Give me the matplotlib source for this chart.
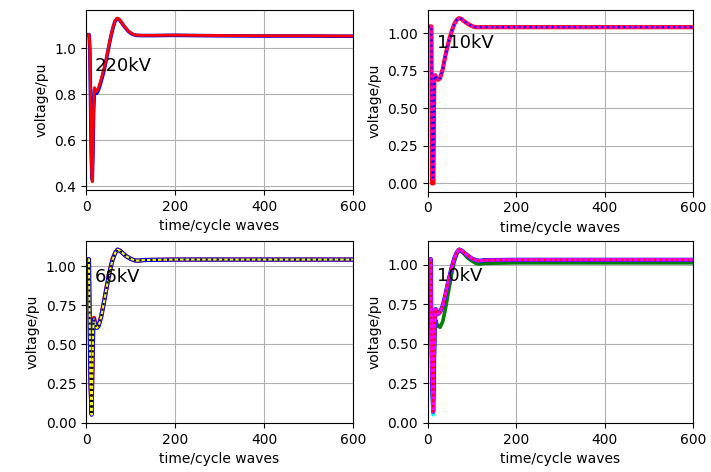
import numpy as np
import matplotlib.pyplot as plt

# cycle-wave sample points of each bus voltage curve
t_220 = [0, 7, 8.5, 10, 11.5, 13, 14, 15.5, 17, 19, 21, 24, 28, 33, 40, 47, 54, 60, 65, 70, 74, 80,
         87, 95, 103, 112, 125, 150, 200, 300, 400, 500, 600]
v_220_red = [1.06, 1.06, 1.0, 0.8, 0.55, 0.44, 0.42, 0.55, 0.74, 0.83, 0.82, 0.812, 0.83, 0.86, 0.91,
             0.97, 1.04, 1.09, 1.12, 1.132, 1.128, 1.113, 1.094, 1.076, 1.064, 1.058, 1.057, 1.057,
             1.058, 1.056, 1.055, 1.055, 1.054]
v_220_blue = [1.06, 1.06, 1.0, 0.8, 0.56, 0.45, 0.43, 0.54, 0.72, 0.82, 0.81, 0.805, 0.82, 0.85, 0.90,
              0.965, 1.035, 1.085, 1.118, 1.13, 1.127, 1.112, 1.093, 1.075, 1.063, 1.057, 1.056, 1.056,
              1.057, 1.055, 1.054, 1.054, 1.053]

t_110 = [0, 8.5, 9, 10, 13, 14, 15, 17, 20, 24, 28, 34, 40, 47, 54, 60, 66, 71, 76, 82, 88, 95,
         102, 108, 130, 200, 300, 400, 500, 600]
v_110_red = [1.045, 1.045, 0.6, 0.0, 0.0, 0.4, 0.70, 0.72, 0.70, 0.69, 0.70, 0.76, 0.85, 0.94, 1.01,
             1.06, 1.09, 1.10, 1.095, 1.08, 1.068, 1.055, 1.045, 1.04, 1.04, 1.04, 1.04, 1.04, 1.04, 1.04]
v_110_mag = [1.045, 1.045, 0.6, 0.03, 0.03, 0.4, 0.70, 0.725, 0.705, 0.69, 0.70, 0.76, 0.85, 0.94, 1.01,
             1.06, 1.09, 1.10, 1.095, 1.08, 1.068, 1.055, 1.045, 1.04, 1.04, 1.04, 1.04, 1.04, 1.04, 1.04]
v_110_blue = [1.045, 1.045, 0.6, 0.04, 0.04, 0.4, 0.70, 0.72, 0.70, 0.69, 0.70, 0.76, 0.85, 0.94, 1.01,
              1.06, 1.09, 1.10, 1.095, 1.08, 1.068, 1.055, 1.045, 1.04, 1.04, 1.04, 1.04, 1.04, 1.04, 1.04]

t_66 = [0, 6.5, 8, 10, 12.5, 14, 16, 18, 20, 24, 28, 34, 40, 47, 54, 60, 66, 71, 76, 82, 90, 100,
        110, 118, 130, 200, 300, 400, 500, 600]
v_66_red = [1.045, 1.045, 0.7, 0.25, 0.06, 0.3, 0.6, 0.67, 0.64, 0.61, 0.62, 0.68, 0.77, 0.88, 0.98,
            1.05, 1.09, 1.107, 1.1, 1.085, 1.065, 1.048, 1.037, 1.036, 1.04, 1.043, 1.043, 1.043, 1.043, 1.043]
v_66_blue = [1.045, 1.045, 0.7, 0.25, 0.05, 0.3, 0.59, 0.66, 0.63, 0.605, 0.615, 0.675, 0.765, 0.875,
             0.975, 1.045, 1.088, 1.106, 1.1, 1.085, 1.065, 1.048, 1.037, 1.036, 1.04, 1.043, 1.043,
             1.043, 1.043, 1.043]
v_66_yel = [1.045, 1.045, 0.7, 0.25, 0.05, 0.3, 0.59, 0.66, 0.63, 0.605, 0.615, 0.675, 0.765, 0.875,
            0.975, 1.045, 1.088, 1.106, 1.1, 1.085, 1.065, 1.048, 1.037, 1.036, 1.04, 1.043, 1.043,
            1.043, 1.043, 1.043]

t_10 = [0, 7, 8, 10, 12.5, 14, 16, 18, 20, 24, 28, 34, 40, 47, 54, 60, 66, 71, 76, 82, 90, 100,
        110, 118, 130, 200, 300, 400, 500, 600]
v_10_green = [1.035, 1.035, 0.7, 0.25, 0.06, 0.3, 0.58, 0.65, 0.63, 0.61, 0.605, 0.64, 0.72, 0.83,
              0.94, 1.02, 1.07, 1.09, 1.085, 1.07, 1.045, 1.025, 1.008, 1.005, 1.01, 1.013, 1.013,
              1.013, 1.013, 1.013]
v_10_cyan = [1.035, 1.035, 0.7, 0.25, 0.05, 0.3, 0.63, 0.72, 0.71, 0.69, 0.70, 0.74, 0.81, 0.90,
             0.98, 1.04, 1.08, 1.097, 1.092, 1.078, 1.06, 1.04, 1.028, 1.026, 1.03, 1.032, 1.032,
             1.032, 1.032, 1.032]
v_10_mag = [1.035, 1.035, 0.7, 0.25, 0.07, 0.3, 0.63, 0.72, 0.71, 0.69, 0.70, 0.74, 0.81, 0.90,
            0.98, 1.04, 1.08, 1.097, 1.092, 1.078, 1.06, 1.04, 1.028, 1.026, 1.03, 1.032, 1.032,
            1.032, 1.032, 1.032]

labels = ['220kV', '110kV', '66kV', '10kV']

fig = plt.figure(figsize=(7.11, 4.72), dpi=100)
ax1 = fig.add_axes([0.121, 0.5975, 0.3755, 0.3815])
ax2 = fig.add_axes([0.6015, 0.594, 0.3735, 0.385])
ax3 = fig.add_axes([0.121, 0.1038, 0.3755, 0.385])
ax4 = fig.add_axes([0.6015, 0.1038, 0.3735, 0.385])

ax1.plot(t_220, v_220_blue, color='blue', lw=2.6)
ax1.plot(t_220, v_220_red, color='red', lw=2.0)

ax2.plot(t_110, v_110_red, color='red', lw=3.0)
ax2.plot(t_110, v_110_mag, color='magenta', lw=2.0, alpha=0.7)
ax2.plot(t_110, v_110_blue, color='blue', lw=1.5, ls=':')

ax3.plot(t_66, v_66_red, color='red', lw=3.0)
ax3.plot(t_66, v_66_blue, color='blue', lw=3.0)
ax3.plot(t_66, v_66_yel, color='yellow', lw=1.5)
ax3.plot(t_66, v_66_yel, color='black', lw=1.5, ls=':')

ax4.plot(t_10, v_10_green, color='green', lw=2.6)
ax4.plot(t_10, v_10_cyan, color='cyan', lw=2.6)
ax4.plot(t_10, v_10_mag, color='blue', lw=3.0)
ax4.plot(t_10, v_10_mag, color='magenta', lw=2.4)
ax4.plot(t_10, v_10_mag, color='red', lw=1.5, ls=':')

for ax, name in zip([ax1, ax2, ax3, ax4], labels):
    ax.set_xlim(0, 600)
    ax.set_xticks([0, 200, 400, 600])
    ax.grid(True)
    ax.set_xlabel('time/cycle waves')
    ax.set_ylabel('voltage/pu')
    ax.text(20, 0.9, name, fontsize=13)

for ax in [ax2, ax3, ax4]:
    ax.set_yticks([0.0, 0.25, 0.5, 0.75, 1.0])

fig.savefig('out.png', dpi=100)
